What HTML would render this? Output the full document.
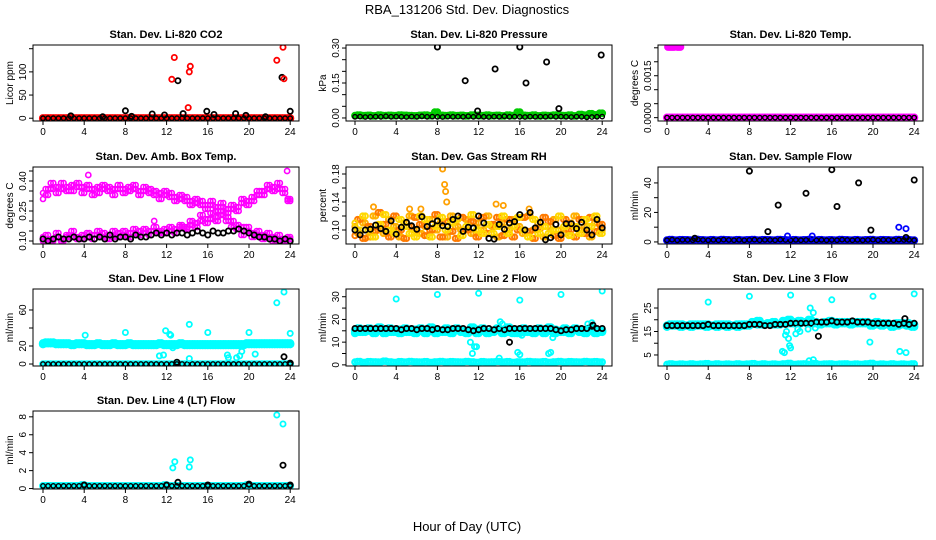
<!DOCTYPE html>
<html><head><meta charset="utf-8">
<style>
html,body{margin:0;padding:0;background:#fff;}
svg{display:block;font-family:"Liberation Sans",sans-serif;}
</style></head>
<body>
<svg id="chart" width="936" height="540" viewBox="0 0 936 540" xmlns="http://www.w3.org/2000/svg">
<text x="467" y="14" text-anchor="middle" font-size="13">RBA_131206  Std. Dev. Diagnostics</text>
<text x="467" y="531" text-anchor="middle" font-size="13">Hour of Day (UTC)</text>
</svg>
<script>
// ---- data ----
const HH = [0,0.5,1,1.5,2,2.5,3,3.5,4,4.5,5,5.5,6,6.5,7,7.5,8,8.5,9,9.5,10,10.5,11,11.5,12,12.5,13,13.5,14,14.5,15,15.5,16,16.5,17,17.5,18,18.5,19,19.5,20,20.5,21,21.5,22,22.5,23,23.5,24];
const HQ = [0.25,0.75,1.25,1.75,2.25,2.75,3.25,3.75,4.25,4.75,5.25,5.75,6.25,6.75,7.25,7.75,8.25,8.75,9.25,9.75,10.25,10.75,11.25,11.75,12.25,12.75,13.25,13.75,14.25,14.75,15.25,15.75,16.25,16.75,17.25,17.75,18.25,18.75,19.25,19.75,20.25,20.75,21.25,21.75,22.25,22.75,23.25,23.75];
const xTicks = [0,4,8,12,16,20,24];
const zeroBase = [0,0,0,0,0,0,0,0,0,0,0,0,0,0,0,0,0,0,0,0,0,0,0,0,0,0,0,0,0,0,0,0,0,0,0,0,0,0,0,0,0,0,0,0,0,0,0,0,0];

// CO2
const co2RedX = [12.5,12.75,14.1,14.2,14.3,22.7,23.3,23.4];
const co2RedY = [84,131,23,100,112,125,153,85];
const co2BlkX = [2.7,5.8,8,8.6,10.6,11.8,13.1,13.6,15.9,16.6,18.7,19.7,21.6,23.2,24];
const co2BlkY = [5,3,16,4,9,7,81,10,15,8,10,6,3,88,15];
// Pressure
const presGreen = [0.01,0.012,0.01,0.011,0.009,0.012,0.01,0.011,0.01,0.012,0.011,0.01,0.009,0.011,0.012,0.01,0.025,0.011,0.01,0.012,0.01,0.011,0.009,0.012,0.011,0.01,0.012,0.01,0.011,0.009,0.012,0.01,0.025,0.011,0.01,0.012,0.009,0.011,0.01,0.012,0.011,0.01,0.012,0.009,0.015,0.012,0.018,0.013,0.02];
const presBlk = [0.005,0.006,0.004,0.005,0.006,0.005,0.007,0.005,0.006,0.005,0.004,0.006,0.005,0.007,0.005,0.006,0.005,0.004,0.006,0.005,0.006,0.005,0.007,0.005,0.006,0.005,0.004,0.006,0.005,0.007,0.005,0.006,0.005,0.004,0.006,0.005,0.006,0.005,0.007,0.005,0.006,0.005,0.004,0.006,0.005,0.003,0.004,0.005,0.006];
const presOutX = [8,10.7,11.9,13.6,16,16.6,18.6,19.8,23.9];
const presOutY = [0.31,0.16,0.03,0.21,0.31,0.15,0.24,0.04,0.27];
// Li-820 temp
const tempTopX = [0.1,0.25,0.4,0.55,0.7,1.0,1.15,1.3];
const tempTopY = [0.00255,0.00255,0.00255,0.00255,0.00255,0.00255,0.00255,0.00255];
// Amb box temp
const ambUp1 = [0.34,0.33,0.36,0.37,0.36,0.37,0.38,0.37,0.37,0.36,0.36,0.37,0.36,0.35,0.36,0.36,0.36,0.37,0.36,0.35,0.35,0.34,0.33,0.34,0.33,0.32,0.32,0.31,0.30,0.30,0.29,0.28,0.28,0.28,0.27,0.27,0.26,0.26,0.27,0.29,0.30,0.32,0.33,0.35,0.36,0.37,0.36,0.36,0.31];
const ambUp2 = [0.31,0.36,0.39,0.34,0.39,0.35,0.35,0.39,0.34,0.38,0.33,0.34,0.38,0.37,0.33,0.38,0.34,0.35,0.38,0.33,0.37,0.36,0.35,0.31,0.35,0.34,0.30,0.33,0.32,0.28,0.31,0.30,0.26,0.30,0.25,0.29,0.24,0.28,0.25,0.31,0.28,0.30,0.35,0.33,0.38,0.35,0.39,0.34,0.30];
const ambLo1 = [0.12,0.11,0.11,0.12,0.11,0.12,0.12,0.12,0.13,0.12,0.13,0.13,0.12,0.13,0.12,0.14,0.13,0.14,0.14,0.15,0.14,0.15,0.15,0.15,0.16,0.15,0.16,0.17,0.17,0.18,0.19,0.20,0.21,0.21,0.22,0.23,0.22,0.20,0.18,0.17,0.15,0.14,0.13,0.13,0.12,0.12,0.11,0.11,0.11];
const ambLo2 = [0.10,0.13,0.10,0.14,0.10,0.13,0.15,0.11,0.11,0.14,0.11,0.15,0.14,0.11,0.15,0.12,0.15,0.12,0.16,0.13,0.16,0.13,0.17,0.14,0.14,0.17,0.14,0.18,0.16,0.20,0.17,0.23,0.19,0.24,0.20,0.25,0.20,0.17,0.16,0.13,0.17,0.12,0.15,0.11,0.14,0.10,0.13,0.10,0.12];
const ambBlk = [0.11,0.10,0.11,0.12,0.11,0.11,0.12,0.11,0.11,0.12,0.11,0.12,0.11,0.13,0.11,0.12,0.12,0.11,0.13,0.12,0.12,0.13,0.14,0.13,0.14,0.13,0.14,0.14,0.13,0.14,0.15,0.14,0.13,0.15,0.14,0.14,0.15,0.15,0.16,0.15,0.14,0.13,0.12,0.12,0.11,0.11,0.10,0.11,0.10];
const ambOutX = [4.4,10.8,23.7,23.8];
const ambOutY = [0.43,0.2,0.45,0.31];
// Gas stream RH
const rh1 = [0.105,0.095,0.11,0.09,0.12,0.1,0.095,0.115,0.105,0.09,0.11,0.12,0.1,0.095,0.105,0.115,0.1,0.11,0.09,0.12,0.105,0.1,0.115,0.095,0.11,0.1,0.12,0.105,0.09,0.11,0.1,0.115,0.105,0.095,0.12,0.1,0.11,0.09,0.105,0.115,0.1,0.095,0.11,0.12,0.1,0.105,0.09,0.11,0.1];
const rh2 = [0.092,0.115,0.088,0.105,0.098,0.125,0.108,0.09,0.12,0.1,0.088,0.105,0.118,0.108,0.092,0.1,0.122,0.09,0.112,0.098,0.088,0.118,0.1,0.112,0.09,0.118,0.095,0.108,0.118,0.092,0.115,0.09,0.1,0.118,0.098,0.088,0.102,0.118,0.112,0.092,0.088,0.115,0.1,0.09,0.115,0.095,0.118,0.098,0.108];
const rh3 = [0.11,0.1,0.12,0.1,0.09,0.108,0.122,0.1,0.095,0.115,0.105,0.095,0.09,0.12,0.115,0.09,0.105,0.118,0.1,0.11,0.115,0.092,0.105,0.122,0.1,0.095,0.108,0.095,0.105,0.12,0.095,0.105,0.118,0.1,0.09,0.115,0.095,0.105,0.095,0.1,0.12,0.105,0.092,0.105,0.095,0.115,0.105,0.12,0.095];
const rhOutX = [8.5,8.7,8.8,8.9,1.8,13.7,14.4,16.9,5.3,6.4];
const rhOutY = [0.19,0.165,0.155,0.14,0.133,0.137,0.135,0.13,0.13,0.13];
const rhBlk = [0.1,0.093,0.1,0.101,0.107,0.102,0.098,0.113,0.094,0.104,0.111,0.106,0.101,0.119,0.105,0.109,0.113,0.106,0.105,0.115,0.12,0.098,0.104,0.103,0.12,0.11,0.088,0.087,0.108,0.101,0.11,0.112,0.122,0.1,0.125,0.103,0.111,0.086,0.089,0.108,0.093,0.109,0.109,0.102,0.111,0.1,0.093,0.115,0.103];
// Sample flow
const sfBase = [1.2,1.5,1.1,1.4,1.3,1.2,1.6,1.3,1.1,1.4,1.2,1.5,1.3,1.2,1.4,1.1,1.3,1.5,1.2,1.4,1.3,1.2,1.5,1.3,1.1,1.4,1.2,1.3,1.5,1.2,1.4,1.1,1.3,1.2,1.5,1.3,1.2,1.4,1.1,1.3,1.5,1.2,1.4,1.3,1.2,1.5,1.3,1.4,1.2];
const sfBlkX = [8,10.8,13.5,16,16.5,18.6,19.8,9.8,23.2,24,2.7];
const sfBlkY = [48,25,33,49,24,40,8,7,3,42,2.5];
const sfBluX = [11.7,14.1,22.5,23.2];
const sfBluY = [4,4,10,9];
// Line 1
const l1a = [23,24,23,22,23,22,22,23,22,21,22,22,21,22,22,21,22,23,22,21,22,21,22,23,22,21,22,22,21,22,21,22,21,22,22,21,21,22,21,22,22,23,22,23,23,22,23,22,23];
const l1b = [22,23,24,23,22,23,21,22,23,22,21,23,22,21,23,22,21,22,21,22,21,22,21,22,21,22,21,23,22,21,22,21,22,21,21,22,22,21,22,21,23,22,23,22,22,23,22,23,22];
const l1OutX = [4.1,8,11.9,12.3,12.4,14.2,16,20,22.7,23.4,24,11.3,11.7,14.2,17.9,18,18.8,19.1,19.3,20.6,12.6];
const l1OutY = [32,35,37,33,32,44,35,35,68,80,34,9,10,6,10,7,7,9,14,11,18];
const l1BlkX = [13,23.4,24];
const l1BlkY = [2,8,1];
// Line 2
const l2a = [15,14.5,15.5,15,14.5,15.5,15,14.5,15,15.5,14.5,15,15.5,15,14.5,15,15.5,15,14.5,15,15.5,15,14.5,15,15.5,15,14.5,15,15.5,15,14.5,15,15.5,14.5,15,15.5,15,14.5,15,15.5,15,14.5,15,15.5,15,14.5,15,15.5,15];
const l2b = [14,16,14.5,16,14,16.5,14,16,14.5,14,16,14.5,14,16,14,16.5,14,14.5,16,14,16,14.5,14,16.5,14,16,14,14.5,16,14,16.5,14,14,16,14.5,14,16,14,16.5,14,14.5,16,14,16,14.5,14,16,14,14.5];
const l2Blk = [16,16,16,16,16,16,16,16,16,15.5,16,16,15.5,16,16,15.5,16,15.5,15.5,16,16,16,15.5,15,15.5,16,16,15.5,16,15.5,16,16,16,16,16,16,16,16,16,15.5,15,15.5,15.5,16,16,16,17,16,16];
const l2OutX = [4,8,12,16,20,24,11.2,11.4,11.6,11.8,14.1,14.3,14,15.8,16,16.2,18.8,19,19.2,22.6,23];
const l2OutY = [29,31,31.5,28.5,31,32.5,10,5,8,8,19,18,3,5.5,4.5,13,5,5.5,12,18,18.5];
const l2BlkX = [15,23.1];
const l2BlkY = [10,17.5];
// Line 3
const l3a = [17.5,18,17.5,18,17.5,18,17.5,18,18,17.5,18,17.5,18,17.5,18,18,17.5,18.5,18,18,18.5,18,18,18.5,18.5,19,18.5,19,18.5,19,18.5,19,18.5,19,18.5,19,19,18.5,19,18.5,18.5,18,18.5,18,18,18.5,18,18.5,18];
const l3b = [17,17.5,18,17,17.5,17,18,17.5,17,17.5,17,18,17,17.5,17,17.5,18,19,19.5,18,18.5,19,18,19.5,20,18.5,19.5,19,20,18.5,18,18.5,19.5,18,19,18.5,18,19,18.5,19,17.5,19,17.5,18.5,17,17.5,18.5,17.5,17];
const l3Blk = [17.5,17.5,17.5,17.5,17.5,17.5,17.5,17.5,18,17.5,17.5,17.5,17.5,17.5,17.5,17.5,18,18,18,17.5,17.5,18,18,18,18.5,18.5,18.5,18.5,18.5,19,19,19,19.5,19,19,19,19.5,19,19,19,18.5,18.5,18.5,18.5,18.5,18,18.5,18,18.5];
const l3OutX = [4,8,12,16,20,24,11.2,11.4,11.5,11.6,11.8,11.9,12,12.5,12.7,12.9,13.7,13.9,14.2,14.4,19.7,22.6,23.2,14.2,13.8];
const l3OutY = [27.5,30,30.5,28.5,30,31,6.5,6,13.5,15,12,9,8,14,16,15,16,25,23,16.5,10.5,6.5,6,3,2.5];
const l3BlkX = [14.7,23.1];
const l3BlkY = [13,20.5];
const l3Base = [1,1.2,1,1.1,1,1.2,1,1.1,1.3,1,1.2,1,1.1,1,1.2,1,1.1,1.3,1,1.2,1,1.1,1,1.2,1.4,1,1.1,1.2,1,1.3,1,1.1,1.2,1,1.1,1.2,1,1.1,1,1.2,1.4,1,1.1,1,1.2,1,1.1,1,1.2];
// Line 4
const l4Base = [0.3,0.3,0.3,0.3,0.3,0.3,0.3,0.3,0.4,0.3,0.3,0.3,0.3,0.3,0.3,0.3,0.3,0.3,0.3,0.3,0.3,0.3,0.3,0.3,0.4,0.3,0.3,0.3,0.3,0.3,0.3,0.3,0.3,0.3,0.3,0.3,0.3,0.3,0.3,0.3,0.4,0.3,0.3,0.3,0.3,0.3,0.3,0.3,0.3];
const l4CyanX = [12.6,12.8,14.2,14.3,22.7,23.3];
const l4CyanY = [2.3,3,2.4,3.2,8.2,7.2];
const l4BlkX = [13.1,23.3,4,12,16,20,24];
const l4BlkY = [0.7,2.6,0.4,0.4,0.4,0.5,0.4];

// ---- layout ----
const cols = [{l:33,r:299,x0:43},{l:346,r:612,x0:355},{l:658,r:923,x0:667}];
const rows = [{t:45,b:121},{t:167,b:244},{t:289,b:366},{t:411,b:489}];
const PX_PER_HR = 10.3;
const svg = document.getElementById('chart');
const NS = 'http://www.w3.org/2000/svg';
function mk(tag, attrs, parent){const e=document.createElementNS(NS,tag);for(const k in attrs)e.setAttribute(k,attrs[k]);(parent||svg).appendChild(e);return e;}

const CYAN='#00ffff', MAG='#ff00ff', BLK='#000000';
function S(c,x,y,r,w){return {c:c,x:x,y:y,r:r||2.4,w:w||1.5};}
// dense band: same values drawn at half-hour and quarter-hour offsets
function D(c,y,r,w){return [S(c,HH,y,r,w),S(c,HQ,y.slice(1),r,w)];}

const panels = [
 {col:0,row:0,title:'Stan. Dev. Li-820 CO2',ylab:'Licor ppm',ylim:[-6,158],ticks:[0,50,100,150],labels:['0','50','100',''],
  series:[...D('#ff0000',zeroBase,2.6,3),S(BLK,HH,zeroBase,2.2,1.4),S(BLK,co2BlkX,co2BlkY,2.6,1.8),S('#ff0000',co2RedX,co2RedY,2.6,1.8)]},
 {col:1,row:0,title:'Stan. Dev. Li-820 Pressure',ylab:'kPa',ylim:[-0.013,0.313],ticks:[0,0.05,0.1,0.15,0.2,0.25,0.3],labels:['0.00','','','0.15','','','0.30'],
  series:[...D('#00cc00',presGreen,2.6,2.6),S(BLK,HH,presBlk,2.2,1.4),S(BLK,presOutX,presOutY,2.6,1.8)]},
 {col:2,row:0,title:'Stan. Dev. Li-820 Temp.',ylab:'degrees C',ylim:[-0.00012,0.0026],ticks:[0,0.0005,0.001,0.0015,0.002,0.0025],labels:['0.0000','','','0.0015','',''],
  series:[...D(MAG,zeroBase,2.6,3),S(BLK,HH,zeroBase,2.2,1.4),S(MAG,tempTopX,tempTopY,2.6,2.6)]},
 {col:0,row:1,title:'Stan. Dev. Amb. Box Temp.',ylab:'degrees C',ylim:[0.085,0.47],ticks:[0.1,0.15,0.2,0.25,0.3,0.35,0.4,0.45],labels:['0.10','','','0.25','','','0.40',''],
  series:[...D(MAG,ambUp1,2.5,1.6),...D(MAG,ambUp2,2.5,1.6),...D(MAG,ambLo1,2.5,1.6),...D(MAG,ambLo2,2.5,1.6),S(MAG,ambOutX,ambOutY,2.6,1.6),S(BLK,HH,ambBlk,2.6,1.8)]},
 {col:1,row:1,title:'Stan. Dev. Gas Stream RH',ylab:'percent',ylim:[0.08,0.19],ticks:[0.1,0.12,0.14,0.16,0.18],labels:['0.10','','0.14','','0.18'],
  series:[...D('#ffb000',rh1,2.6,2),...D('#ff7a00',rh2,2.6,2),...D('#ffd800',rh3,2.6,2),S('#ffa000',rhOutX,rhOutY,2.6,1.8),S(BLK,HH,rhBlk,2.6,1.8)]},
 {col:2,row:1,title:'Stan. Dev. Sample Flow',ylab:'ml/min',ylim:[-1.4,50.8],ticks:[0,10,20,30,40],labels:['0','','20','','40'],
  series:[...D('#0000ff',sfBase,2.6,2.8),S(BLK,HH,sfBase,2.2,1.4),S(BLK,sfBlkX,sfBlkY,2.6,1.8),S('#0000ff',sfBluX,sfBluY,2.6,1.8)]},
 {col:0,row:2,title:'Stan. Dev. Line 1 Flow',ylab:'ml/min',ylim:[-2.2,83.3],ticks:[0,20,40,60],labels:['0','20','','60'],
  series:[...D(CYAN,l1a,2.8,2.8),...D(CYAN,l1b,2.8,2.8),...D(CYAN,zeroBase,2.6,2.4),S(BLK,HH,zeroBase,2.2,1.4),S(CYAN,l1OutX,l1OutY,2.6,1.8),S(BLK,l1BlkX,l1BlkY,2.6,1.8)]},
 {col:1,row:2,title:'Stan. Dev. Line 2 Flow',ylab:'ml/min',ylim:[-0.5,33.4],ticks:[0,5,10,15,20,25,30],labels:['0','','10','','20','','30'],
  series:[...D(CYAN,l2a,2.8,2.8),...D(CYAN,l2b,2.8,2.8),...D(CYAN,sfBase,2.6,2.4),S(BLK,HH,l2Blk,2.6,1.8),S(CYAN,l2OutX,l2OutY,2.6,1.8),S(BLK,l2BlkX,l2BlkY,2.6,1.8)]},
 {col:2,row:2,title:'Stan. Dev. Line 3 Flow',ylab:'ml/min',ylim:[0.3,33.1],ticks:[5,10,15,20,25],labels:['5','','15','','25'],
  series:[...D(CYAN,l3a,2.8,2.8),...D(CYAN,l3b,2.8,2.8),...D(CYAN,l3Base,2.6,2.4),S(BLK,HH,l3Blk,2.6,1.8),S(CYAN,l3OutX,l3OutY,2.6,1.8),S(BLK,l3BlkX,l3BlkY,2.6,1.8)]},
 {col:0,row:3,title:'Stan. Dev. Line 4 (LT) Flow',ylab:'ml/min',ylim:[-0.05,8.65],ticks:[0,2,4,6,8],labels:['0','2','4','6','8'],
  series:[...D(CYAN,l4Base,2.6,2.6),S(BLK,HH,l4Base,2.2,1.4),S(CYAN,l4CyanX,l4CyanY,2.6,1.8),S(BLK,l4BlkX,l4BlkY,2.6,1.8)]}
];

panels.forEach((p,pi)=>{
  const c=cols[p.col], r=rows[p.row];
  const g=mk('g',{});
  
  
  const xs=h=>c.x0+h*PX_PER_HR;
  const ys=v=>r.b-(v-p.ylim[0])/(p.ylim[1]-p.ylim[0])*(r.b-r.t);
  const cp=mk('clipPath',{id:'cp'+pi},g);
  mk('rect',{x:c.l,y:r.t,width:c.r-c.l,height:r.b-r.t},cp);
  const t=mk('text',{x:(c.l+c.r)/2,y:r.t-7,'text-anchor':'middle','font-size':'11','font-weight':'bold'},g);
  t.textContent=p.title;
  
  
  const yl=mk('text',{x:0,y:0,'text-anchor':'middle','font-size':'10',transform:`translate(${c.l-20},${(r.t+r.b)/2}) rotate(-90)`},g);
  yl.textContent=p.ylab;
  
  
  const pg=mk('g',{'clip-path':`url(#cp${pi})`},g);
  
  
  p.series.forEach(s=>{
    for(let i=0;i<s.x.length;i++){
      const cy=Math.min(Math.max(ys(s.y[i]),r.t+2),r.b+4);
      const pt=mk('circle',{cx:xs(s.x[i]).toFixed(1),cy:cy.toFixed(1),r:s.r,fill:'none',stroke:s.c,'stroke-width':s.w},pg);
      
      
    }
  });
  const bx=mk('rect',{x:c.l,y:r.t,width:c.r-c.l,height:r.b-r.t,fill:'none',stroke:'#000','stroke-width':1},g);
  
  
  xTicks.forEach(h=>{
    const x=xs(h);
    mk('line',{x1:x,y1:r.b,x2:x,y2:r.b+4,stroke:'#000'},g);
    const tl=mk('text',{x:x,y:r.b+14,'text-anchor':'middle','font-size':'10'},g);
    tl.textContent=String(h);
    
    
  });
  p.ticks.forEach((v,i)=>{
    const y=ys(v);
    mk('line',{x1:c.l-4,y1:y,x2:c.l,y2:y,stroke:'#000'},g);
    if(p.labels[i]){
      const tl=mk('text',{x:0,y:0,'text-anchor':'middle','font-size':'10',transform:`translate(${c.l-7},${y}) rotate(-90)`},g);
      tl.textContent=p.labels[i];
      
      
    }
  });
});
</script>
</body></html>
